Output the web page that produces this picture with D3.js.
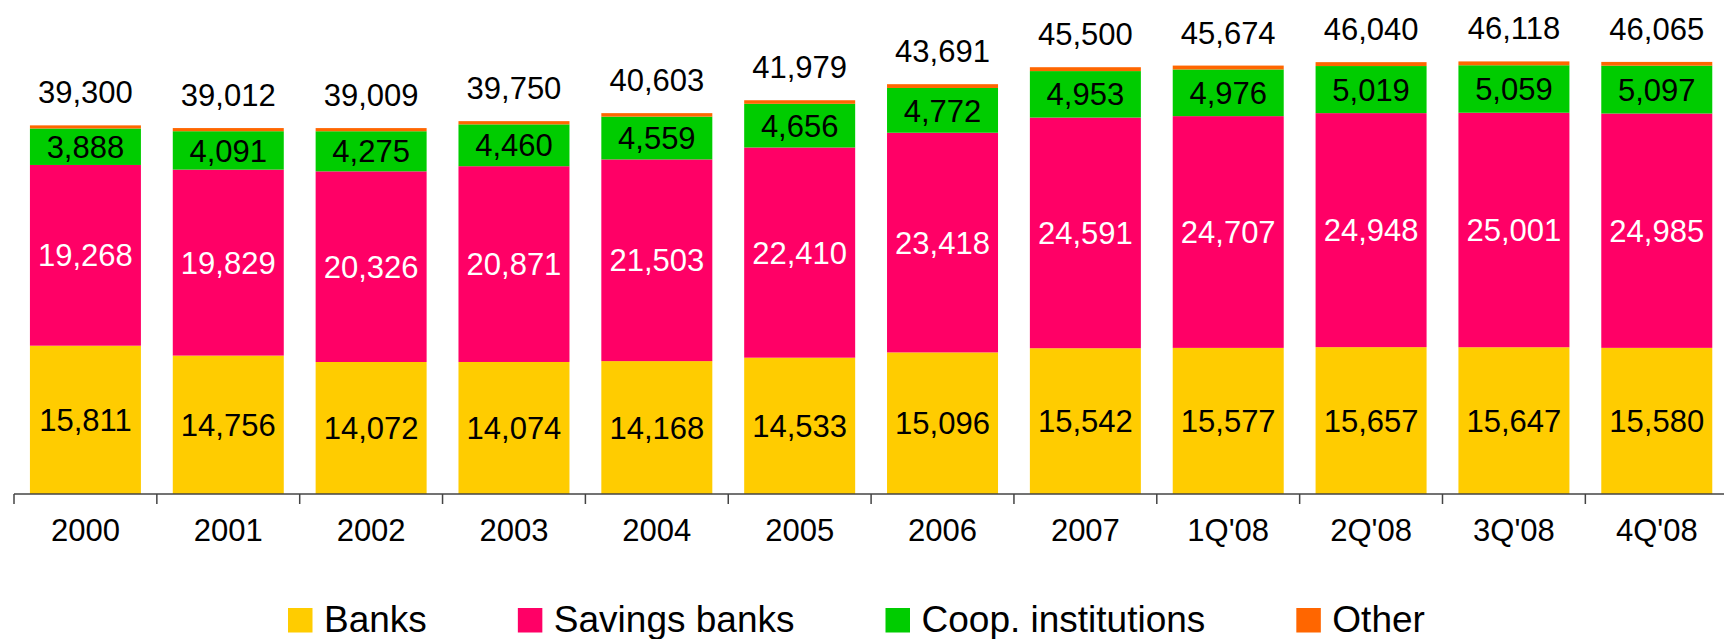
<!DOCTYPE html>
<html>
<head>
<meta charset="utf-8">
<script src="https://cdn.jsdelivr.net/npm/d3@7"></script>
<style>
  html, body { margin: 0; padding: 0; background: #fff; }
  svg { display: block; font-family: "Liberation Sans", Arial, sans-serif; }
</style>
</head>
<body>
<svg id="chart" width="1724" height="639"></svg>
<script>
// Periods on the x axis
const periods = ["2000", "2001", "2002", "2003", "2004", "2005", "2006", "2007", "1Q'08", "2Q'08", "3Q'08", "4Q'08"];

// Number of branches by type of institution
const banks         = [15811, 14756, 14072, 14074, 14168, 14533, 15096, 15542, 15577, 15657, 15647, 15580];
const savingsBanks  = [19268, 19829, 20326, 20871, 21503, 22410, 23418, 24591, 24707, 24948, 25001, 24985];
const coopInst      = [3888, 4091, 4275, 4460, 4559, 4656, 4772, 4953, 4976, 5019, 5059, 5097];
const other         = [333, 336, 336, 345, 373, 380, 405, 414, 414, 416, 411, 403];
const totals        = [39300, 39012, 39009, 39750, 40603, 41979, 43691, 45500, 45674, 46040, 46118, 46065];

const seriesNames   = ["Banks", "Savings banks", "Coop. institutions", "Other"];
const seriesColors  = ["#FFCC00", "#FF0066", "#00CC00", "#FF6600"];
const labelColors   = ["#000", "#fff", "#000", null];

const rows = periods.map((p, i) => ({
  period: p,
  "Banks": banks[i],
  "Savings banks": savingsBanks[i],
  "Coop. institutions": coopInst[i],
  "Other": other[i],
  total: totals[i]
}));

const svg = d3.select("#chart");
const fmt = d3.format(",");

const axisY = 494;
const pad = 0.223;
const x = d3.scaleBand()
  .domain(periods)
  .range([14, 14 + 12 * 142.85])
  .paddingInner(pad)
  .paddingOuter(pad / 2);

const y = d3.scaleLinear().domain([0, 50000]).range([axisY, axisY - 50000 * 0.00938]);

const stack = d3.stack().keys(seriesNames);
const layers = stack(rows);

// stacked bars
const g = svg.append("g");
layers.forEach((layer, li) => {
  g.append("g")
    .attr("fill", seriesColors[li])
    .selectAll("rect")
    .data(layer)
    .join("rect")
    .attr("x", d => x(d.data.period))
    .attr("width", x.bandwidth())
    .attr("y", d => y(d[1]))
    .attr("height", d => y(d[0]) - y(d[1]));
});

// values inside the segments
layers.forEach((layer, li) => {
  if (!labelColors[li]) return;
  g.append("g")
    .attr("fill", labelColors[li])
    .attr("font-size", 31)
    .attr("text-anchor", "middle")
    .selectAll("text")
    .data(layer)
    .join("text")
    .attr("x", d => x(d.data.period) + x.bandwidth() / 2)
    .attr("y", d => (y(d[0]) + y(d[1])) / 2)
    .attr("dy", "0.36em")
    .text(d => fmt(d[1] - d[0]));
});

// totals above the bars
g.append("g")
  .attr("fill", "#000")
  .attr("font-size", 31)
  .attr("text-anchor", "middle")
  .selectAll("text")
  .data(rows)
  .join("text")
  .attr("x", d => x(d.period) + x.bandwidth() / 2)
  .attr("y", d => y(d.total) - 22)
  .text(d => fmt(d.total));

// category axis: labels at band centres, tick marks at band boundaries
const axis = svg.append("g").attr("transform", `translate(0,${axisY})`);
axis.call(d3.axisBottom(x).tickSize(0).tickPadding(0))
  .call(a => a.select(".domain").remove())
  .call(a => a.selectAll("text")
    .attr("font-size", 31)
    .attr("font-family", "Liberation Sans, Arial, sans-serif")
    .attr("fill", "#000")
    .attr("y", 47)
    .attr("dy", 0));

const step = x.step();
const [r0, r1] = x.range();
axis.append("line")
  .attr("x1", r0).attr("x2", r1)
  .attr("y1", 0).attr("y2", 0)
  .attr("stroke", "#444").attr("stroke-width", 1.5);
axis.selectAll("line.boundary")
  .data(d3.range(periods.length + 1))
  .join("line")
  .attr("class", "boundary")
  .attr("x1", i => r0 + i * step).attr("x2", i => r0 + i * step)
  .attr("y1", 0).attr("y2", 10)
  .attr("stroke", "#444").attr("stroke-width", 1.5);

// legend
const legend = svg.append("g").attr("transform", "translate(288,0)");
let cursor = 0;
seriesNames.forEach((name, i) => {
  const item = legend.append("g").attr("transform", `translate(${cursor},0)`);
  item.append("rect")
    .attr("x", 0).attr("y", 608)
    .attr("width", 24.5).attr("height", 24.5)
    .attr("fill", seriesColors[i]);
  const t = item.append("text")
    .attr("x", 36).attr("y", 632)
    .attr("font-size", 37)
    .attr("fill", "#000")
    .text(name);
  cursor += 36 + t.node().getComputedTextLength() + 91;
});
</script>
</body>
</html>
